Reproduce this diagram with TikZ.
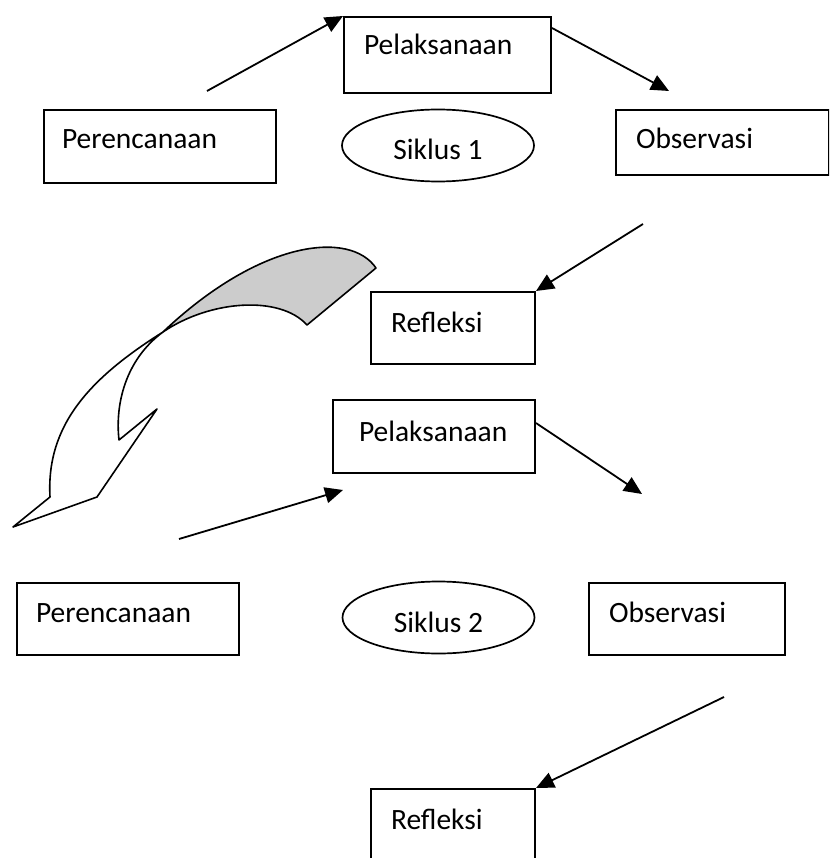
\documentclass[tikz,border=0pt]{standalone}
\usepackage{fontspec}
\setmainfont{Carlito}
\usetikzlibrary{arrows.meta,shapes.geometric}

\begin{document}
\begin{tikzpicture}[x=1pt,y=-1pt,
  font=\fontsize{29.5pt}{35pt}\selectfont,
  kotak/.style n args={4}{draw,line width=2pt,anchor=north west,inner ysep=0pt,
    inner xsep=#2,text width=#1,align=left,text height=#3,text depth=#4},
  lonjong/.style={draw,ellipse,line width=1.7pt,minimum width=192pt,minimum height=72pt,
    inner sep=0pt,text height=29pt,text depth=0pt},
  panah/.style={line width=1.8pt,-{Triangle[length=18pt,width=16pt]}}]
\useasboundingbox (0,0) rectangle (829,858);
\clip (0,0) rectangle (829,858);

% siklus 1
\node[kotak={167pt}{20pt}{38pt}{38pt}] (pel1) at (343,16) {Pelaksanaan};
\node[kotak={196pt}{18pt}{39pt}{34pt}] (per1) at (43,109) {Perencanaan};
\node[kotak={173pt}{20pt}{39pt}{26pt}] (obs1) at (615,109) {Observasi};
\node[kotak={124pt}{20pt}{40pt}{32pt}] (ref1) at (370,291) {Refleksi};
\node[lonjong] (sik1) at (438,145.5) {Siklus 1};

\coordinate (awal1) at (207,91);
\coordinate (ujung1) at (669,91);
\coordinate (awal2) at (643,224);
\draw[panah] (awal1) -- (pel1.north west);
\draw[panah] ([yshift=-12pt]pel1.north east) -- (ujung1);
\draw[panah] (awal2) -- (ref1.north east);

% panah lengkung
\filldraw[fill=gray!40,line width=1.6pt,line join=round]
  (376,268) .. controls (350,230) and (260,240) .. (163,332)
  .. controls (210,300) and (280,295) .. (307,325) -- cycle;
\filldraw[fill=white,line width=1.6pt,line join=round]
  (163,332) .. controls (90,378) and (46,425) .. (50,497)
  -- (13,527) -- (97,497) -- (157,409) -- (119,440)
  .. controls (115,405) and (125,360) .. (163,332) -- cycle;

% siklus 2
\node[kotak={150pt}{26pt}{41pt}{32pt}] (pel2) at (332,399) {Pelaksanaan};
\node[kotak={184pt}{19pt}{39pt}{33pt}] (per2) at (16,582) {Perencanaan};
\node[kotak={156pt}{20pt}{39pt}{33pt}] (obs2) at (588,582) {Observasi};
\node[kotak={124pt}{20pt}{40pt}{60pt}] (ref2) at (370,788) {Refleksi};
\node[lonjong] (sik2) at (438.5,617.5) {Siklus 2};

\coordinate (awal3) at (179,539);
\coordinate (ujung3) at (343,490);
\coordinate (ujung4) at (642,494);
\coordinate (awal5) at (724,697);
\draw[panah] (awal3) -- (ujung3);
\draw[panah] ([yshift=-24pt]pel2.north east) -- (ujung4);
\draw[panah] (awal5) -- (ref2.north east);
\end{tikzpicture}
\end{document}
